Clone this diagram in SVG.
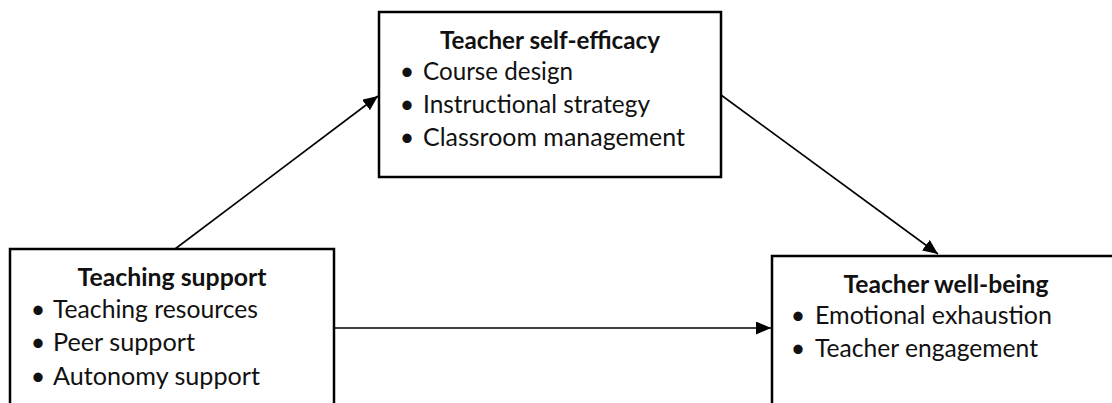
<svg xmlns="http://www.w3.org/2000/svg" width="1112" height="403" viewBox="0 0 1112 403">
  <style>
    .box { fill: #ffffff; stroke: #000000; stroke-width: 2.5; }
    .conn { stroke: #000000; stroke-width: 1.6; fill: none; }
    text { font-family: "Lato", "Carlito", "Liberation Sans", sans-serif; fill: #111111; font-size: 25px; }
    .title { font-weight: bold; text-anchor: middle; }
    .bullet { text-anchor: middle; }
  </style>
  <defs>
    <marker id="arrow" markerUnits="userSpaceOnUse" markerWidth="16" markerHeight="14" refX="15" refY="6.5" orient="auto">
      <path d="M0,0 L15,6.5 L0,13 z" fill="#000000"/>
    </marker>
  </defs>
  <rect width="1112" height="403" fill="#ffffff"/>

  <g id="connectors">
    <line class="conn" x1="175" y1="249" x2="378" y2="96" marker-end="url(#arrow)"/>
    <line class="conn" x1="721" y1="95" x2="938" y2="254" marker-end="url(#arrow)"/>
    <line class="conn" x1="334" y1="328" x2="771" y2="328" marker-end="url(#arrow)"/>
  </g>

  <g id="node-self-efficacy">
    <rect class="box" x="379" y="12" width="342" height="165"/>
    <text class="title" x="550" y="49" textLength="220" lengthAdjust="spacingAndGlyphs">Teacher self-efficacy</text>
    <text class="bullet" x="407" y="80">•</text>
    <text x="423" y="80" textLength="150" lengthAdjust="spacingAndGlyphs">Course design</text>
    <text class="bullet" x="407" y="113">•</text>
    <text x="423" y="113" textLength="227" lengthAdjust="spacingAndGlyphs">Instructional strategy</text>
    <text class="bullet" x="407" y="146">•</text>
    <text x="423" y="146" textLength="262" lengthAdjust="spacingAndGlyphs">Classroom management</text>
  </g>

  <g id="node-teaching-support">
    <rect class="box" x="10" y="249" width="324" height="200"/>
    <text class="title" x="172" y="286" textLength="189" lengthAdjust="spacingAndGlyphs">Teaching support</text>
    <text class="bullet" x="38" y="318">•</text>
    <text x="53" y="318" textLength="205" lengthAdjust="spacingAndGlyphs">Teaching resources</text>
    <text class="bullet" x="38" y="351">•</text>
    <text x="53" y="351" textLength="142" lengthAdjust="spacingAndGlyphs">Peer support</text>
    <text class="bullet" x="38" y="385">•</text>
    <text x="53" y="385" textLength="207" lengthAdjust="spacingAndGlyphs">Autonomy support</text>
  </g>

  <g id="node-well-being">
    <rect class="box" x="772" y="256" width="360" height="200"/>
    <text class="title" x="946" y="293" textLength="205" lengthAdjust="spacingAndGlyphs">Teacher well-being</text>
    <text class="bullet" x="798" y="324">•</text>
    <text x="815" y="324" textLength="237" lengthAdjust="spacingAndGlyphs">Emotional exhaustion</text>
    <text class="bullet" x="798" y="357">•</text>
    <text x="815" y="357" textLength="223" lengthAdjust="spacingAndGlyphs">Teacher engagement</text>
  </g>
</svg>
